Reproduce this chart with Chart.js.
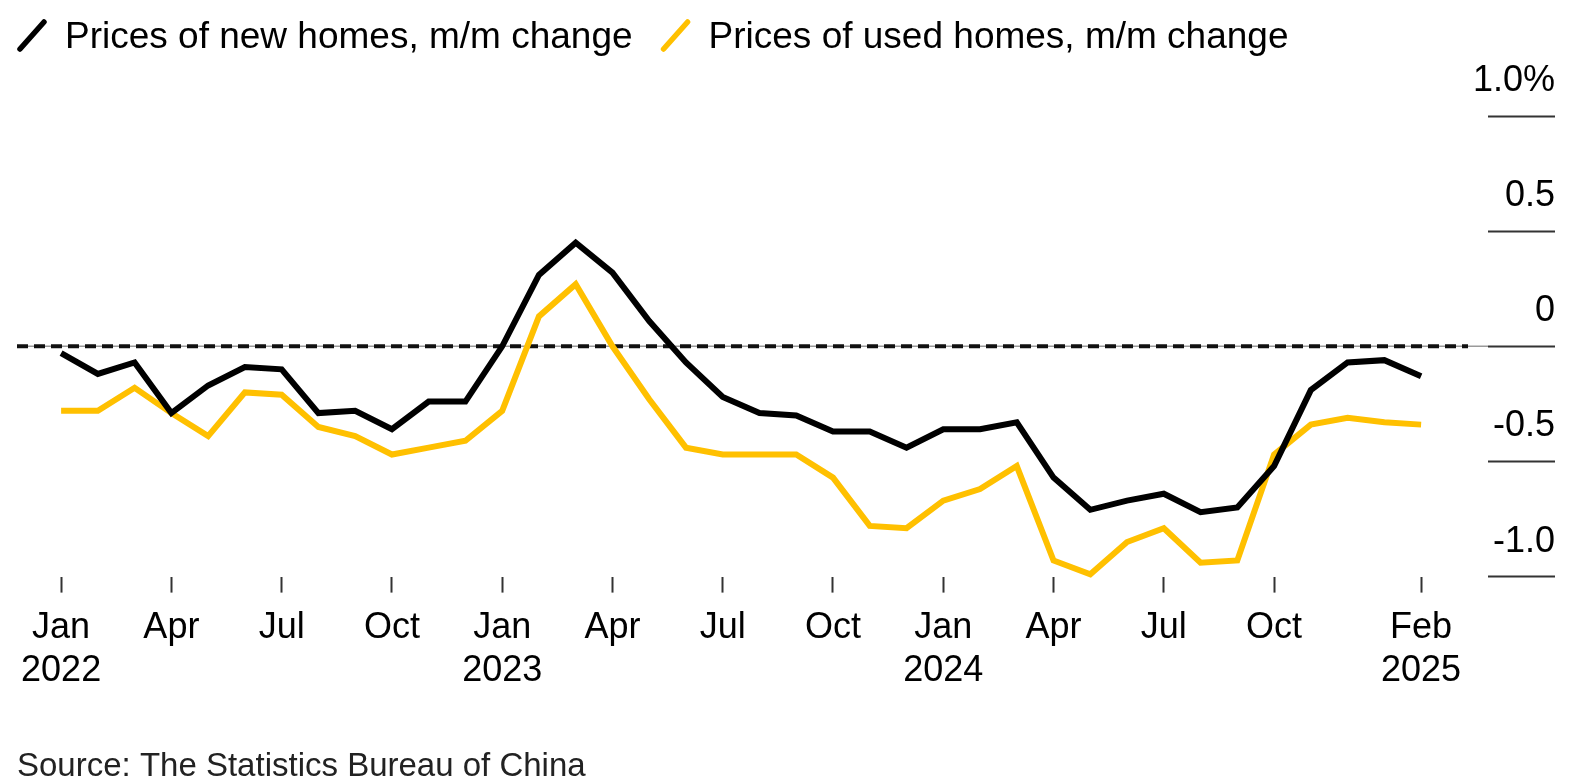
<!DOCTYPE html>
<html>
<head>
<meta charset="utf-8">
<title>China home prices</title>
<script src="https://cdn.jsdelivr.net/npm/chart.js@4.4.1/dist/chart.umd.min.js"></script>
<style>
  html, body { margin: 0; padding: 0; background: #fff; }
  #wrap { width: 1595px; height: 783px; position: relative; }
</style>
</head>
<body>
<div id="wrap"><canvas id="chartPrecios"></canvas></div>
<script>
const months = [
    '2022-01','2022-02','2022-03','2022-04','2022-05','2022-06','2022-07','2022-08','2022-09','2022-10','2022-11','2022-12',
    '2023-01','2023-02','2023-03','2023-04','2023-05','2023-06','2023-07','2023-08','2023-09','2023-10','2023-11','2023-12',
    '2024-01','2024-02','2024-03','2024-04','2024-05','2024-06','2024-07','2024-08','2024-09','2024-10','2024-11','2024-12',
    '2025-01','2025-02'
];

// m/m change, %
const newHomes = [
    -0.03, -0.12, -0.07, -0.29, -0.17, -0.09, -0.10, -0.29, -0.28, -0.36, -0.24, -0.24,
     0.00,  0.31,  0.45,  0.32,  0.11, -0.07, -0.22, -0.29, -0.30, -0.37, -0.37, -0.44,
    -0.36, -0.36, -0.33, -0.57, -0.71, -0.67, -0.64, -0.72, -0.70, -0.52, -0.19, -0.07,
    -0.06, -0.13
];
const usedHomes = [
    -0.28, -0.28, -0.18, -0.29, -0.39, -0.20, -0.21, -0.35, -0.39, -0.47, -0.44, -0.41,
    -0.28,  0.13,  0.27,  0.00, -0.23, -0.44, -0.47, -0.47, -0.47, -0.57, -0.78, -0.79,
    -0.67, -0.62, -0.52, -0.93, -0.99, -0.85, -0.79, -0.94, -0.93, -0.47, -0.34, -0.31,
    -0.33, -0.34
];

const xTickMonths = [0, 3, 6, 9, 12, 15, 18, 21, 24, 27, 30, 33, 37];
const xTickLabels = [
    ['Jan', '2022'], 'Apr', 'Jul', 'Oct',
    ['Jan', '2023'], 'Apr', 'Jul', 'Oct',
    ['Jan', '2024'], 'Apr', 'Jul', 'Oct',
    ['Feb', '2025']
];
const yTicks = [-1, -0.5, 0, 0.5, 1];
const yTickLabels = ['-1.0', '-0.5', '0', '0.5', '1.0%'];

const FONT = '"Liberation Sans", Arial, Helvetica, sans-serif';
Chart.defaults.font.family = FONT;

// dashed zero line over a thin grey rule
const zeroLine = {
    id: 'zeroLine',
    beforeDatasetsDraw(chart) {
        const { ctx, chartArea: a, scales: { y } } = chart;
        const py = y.getPixelForValue(0);
        ctx.save();
        ctx.strokeStyle = '#9a9a9a';
        ctx.lineWidth = 1.5;
        ctx.beginPath();
        ctx.moveTo(a.left, py);
        ctx.lineTo(a.right, py);
        ctx.stroke();
        ctx.strokeStyle = '#111';
        ctx.lineWidth = 4;
        ctx.setLineDash([11, 6]);
        ctx.beginPath();
        ctx.moveTo(a.left, py);
        ctx.lineTo(a.right - 20, py);
        ctx.stroke();
        ctx.restore();
    }
};

// legend with slanted line markers
const slashLegend = {
    id: 'slashLegend',
    afterDraw(chart) {
        const ctx = chart.ctx;
        ctx.save();
        ctx.font = '37px ' + FONT;
        ctx.textBaseline = 'alphabetic';
        let x = 32;
        chart.data.datasets.forEach(ds => {
            ctx.strokeStyle = ds.borderColor;
            ctx.lineWidth = 5.5;
            ctx.lineCap = 'round';
            ctx.beginPath();
            ctx.moveTo(x - 12, 49);
            ctx.lineTo(x + 12, 22);
            ctx.stroke();
            ctx.fillStyle = '#000';
            ctx.fillText(ds.label, x + 33, 48);
            x += 33 + ctx.measureText(ds.label).width + 43;
        });
        ctx.restore();
    }
};

new Chart(document.getElementById('chartPrecios'), {
    type: 'line',
    data: {
        labels: months,
        datasets: [{
            label: 'Prices of new homes, m/m change',
            data: newHomes.map((v, i) => ({ x: i, y: v })),
            borderColor: '#000',
            borderWidth: 6,
            pointRadius: 0,
            tension: 0,
            clip: false
        }, {
            label: 'Prices of used homes, m/m change',
            data: usedHomes.map((v, i) => ({ x: i, y: v })),
            borderColor: '#ffc000',
            borderWidth: 6,
            pointRadius: 0,
            tension: 0,
            clip: false
        }]
    },
    options: {
        responsive: true,
        maintainAspectRatio: false,
        animation: false,
        layout: { padding: { top: 70, left: 17, right: 40, bottom: 0 } },
        plugins: {
            legend: { display: false },
            tooltip: { enabled: false },
            subtitle: {
                display: true,
                text: 'Source: The Statistics Bureau of China',
                position: 'bottom',
                align: 'start',
                color: '#222',
                font: { size: 33, weight: 'normal', lineHeight: 1 },
                padding: { top: 43, bottom: 0 }
            }
        },
        scales: {
            x: {
                type: 'linear',
                min: -1.2,
                max: 38.82,
                afterBuildTicks: s => { s.ticks = xTickMonths.map(v => ({ value: v })); },
                grid: { drawOnChartArea: false, drawTicks: true, tickLength: 16, tickColor: '#333', tickWidth: 2 },
                border: { display: false },
                ticks: {
                    padding: 14,
                    color: '#000',
                    font: { size: 36, lineHeight: 1.2 },
                    maxRotation: 0,
                    autoSkip: false,
                    callback: (v, i) => xTickLabels[i]
                }
            },
            y: {
                position: 'right',
                min: -1,
                max: 1.2,
                afterBuildTicks: s => { s.ticks = yTicks.map(v => ({ value: v })); },
                afterFit: s => { s.width = 67; s.paddingTop = 0; s.paddingBottom = 0; },
                grid: { drawOnChartArea: false, drawTicks: true, tickLength: 67, tickColor: '#333', tickWidth: 2 },
                border: { display: false },
                ticks: {
                    mirror: true,
                    crossAlign: 'near',
                    padding: 67,
                    labelOffset: -35,
                    color: '#000',
                    font: { size: 36 },
                    callback: (v, i) => yTickLabels[i]
                }
            }
        }
    },
    plugins: [zeroLine, slashLegend]
});
</script>
</body>
</html>
